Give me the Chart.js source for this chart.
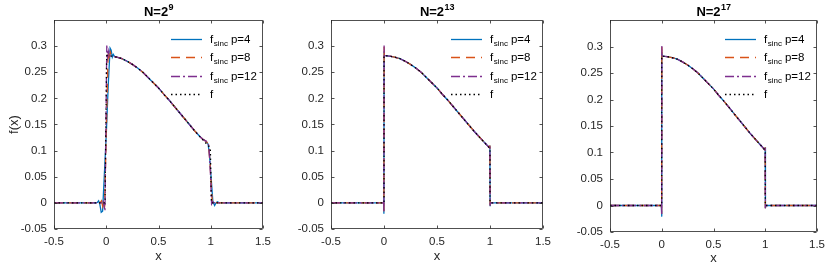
<!DOCTYPE html>
<html>
<head>
<meta charset="utf-8">
<script src="https://cdn.jsdelivr.net/npm/chart.js@4.4.0/dist/chart.umd.min.js"></script>
<style>
    body { margin: 0; background: #fff; }
    .panel { position: absolute; top: 0; }
</style>
</head>
<body>
<canvas id="c1" class="panel" width="277" height="267" style="left:0px"></canvas>
<canvas id="c2" class="panel" width="277" height="267" style="left:280px"></canvas>
<canvas id="c3" class="panel" width="276" height="267" style="left:555px"></canvas>
<script>
// Eixos e rótulos
const xTicks = [-0.5, 0, 0.5, 1, 1.5];
const yTicks = [-0.05, 0, 0.05, 0.1, 0.15, 0.2, 0.25, 0.3];
const exponents = ['9', '13', '17'];
const seriesNames = ['p=4', 'p=8', 'p=12', 'f'];

// parte suave de f (comum a todas as curvas)
const bodyX = [0.1, 0.15, 0.2, 0.25, 0.3, 0.35, 0.4, 0.45, 0.5, 0.55, 0.6, 0.65, 0.7, 0.75, 0.8, 0.85, 0.9];
const bodyY = [0.279, 0.276, 0.271, 0.265, 0.258, 0.250, 0.240, 0.230, 0.220, 0.208, 0.197, 0.185, 0.173, 0.161, 0.149, 0.137, 0.126];

// N=2^9 : comportamento perto dos saltos em x=0 e x=1
const n9p4Left = [[-0.1, 0], [-0.085, 0.001], [-0.073, 0.004], [-0.062, -0.002], [-0.048, -0.018], [-0.035, -0.016], [0.0, 0.13], [0.02, 0.23], [0.037, 0.296], [0.047, 0.292], [0.058, 0.279], [0.068, 0.284], [0.08, 0.280]];
const n9p4Right = [[0.93, 0.121], [0.955, 0.118], [0.975, 0.112], [0.987, 0.094], [1.02, 0.003], [1.037, -0.005], [1.05, 0.0], [1.064, 0.002], [1.08, 0]];
const n9p8Left = [[-0.1, 0], [-0.06, 0], [-0.045, 0.004], [-0.035, -0.006], [-0.026, 0.003], [-0.016, -0.009], [0.018, 0.29], [0.028, 0.279], [0.04, 0.288], [0.052, 0.279], [0.08, 0.280]];
const n9p8Right = [[0.93, 0.121], [0.96, 0.117], [0.978, 0.111], [0.992, 0.08], [1.014, 0.001], [1.028, -0.003], [1.042, 0.002], [1.06, 0]];
const n9p12Left = [[-0.1, 0], [-0.04, 0], [-0.03, 0.005], [-0.021, -0.006], [-0.012, -0.016], [0.005, 0.301], [0.014, 0.279], [0.024, 0.291], [0.034, 0.281], [0.08, 0.280]];
const n9p12Right = [[0.93, 0.121], [0.965, 0.117], [0.982, 0.11], [0.996, 0.06], [1.008, -0.002], [1.02, 0.002], [1.035, 0]];
const n9fLeft = [[-0.012, 0], [0.004, 0.282], [0.05, 0.281]];
const n9fRight = [[0.95, 0.115], [0.996, 0.105], [1.006, 0]];

// N=2^13 e N=2^17 : saltos abruptos com pequenos picos
const sharpP4Left = [[-0.003, 0], [-0.001, -0.021], [0.001, 0.29], [0.003, 0.282], [0.05, 0.281]];
const sharpP8Left = [[-0.003, 0], [-0.001, -0.016], [0.001, 0.299], [0.003, 0.282], [0.05, 0.281]];
const sharpP12Left = [[-0.003, 0], [-0.001, -0.018], [0.001, 0.301], [0.003, 0.282], [0.05, 0.281]];
const sharpRight = [[0.95, 0.115], [0.997, 0.105], [0.999, 0.11], [1.001, -0.005], [1.003, 0]];
const sharpFLeft = [[0, 0], [0, 0.282], [0.05, 0.281]];
const sharpFRight = [[0.95, 0.115], [1, 0.104], [1, 0]];

const lineStyles = [
    { color: '#0072BD', dash: [] },
    { color: '#D95319', dash: [9, 6] },
    { color: '#7E2F8E', dash: [9, 3, 2, 3] },
    { color: '#000000', dash: [1.5, 3] }
];

const FONT = "'Liberation Sans', Arial, Helvetica, sans-serif";
Chart.defaults.font.family = FONT;

function curve(left, right) {
    const pts = [[-0.5, 0], ...left];
    bodyX.forEach((x, i) => pts.push([x, bodyY[i]]));
    pts.push(...right, [1.5, 0]);
    return pts.map(p => ({ x: p[0], y: p[1] }));
}

const fmt = v => String(parseFloat(Number(v).toFixed(2)));

/**
 * Caixa, ticks internos, título e legenda no estilo MATLAB.
 */
const matlabAxes = {
    id: 'matlabAxes',
    afterDatasetsDraw(chart, args, opts) {
        const { ctx, chartArea: a, scales } = chart;
        ctx.save();
        ctx.strokeStyle = '#262626';
        ctx.lineWidth = 0.8;
        ctx.setLineDash([]);
        const L = Math.round(a.left) + 0.5, R = Math.round(a.right) - 0.5;
        const T = Math.round(a.top) + 0.5, B = Math.round(a.bottom) - 0.5;
        ctx.strokeRect(L, T, R - L, B - T);
        ctx.beginPath();
        xTicks.forEach(v => {
            const px = Math.round(scales.x.getPixelForValue(v)) + 0.5;
            ctx.moveTo(px, B); ctx.lineTo(px, B - 3);
            ctx.moveTo(px, T); ctx.lineTo(px, T + 3);
        });
        yTicks.forEach(v => {
            const py = Math.round(scales.y.getPixelForValue(v)) + 0.5;
            ctx.moveTo(L, py); ctx.lineTo(L + 3, py);
            ctx.moveTo(R, py); ctx.lineTo(R - 3, py);
        });
        ctx.stroke();

        // Título N=2^k
        ctx.fillStyle = '#000';
        ctx.textBaseline = 'alphabetic';
        ctx.font = 'bold 13px ' + FONT;
        const w1 = ctx.measureText('N=2').width;
        ctx.font = 'bold 9px ' + FONT;
        const w2 = ctx.measureText(opts.exp).width;
        let tx = (a.left + a.right) / 2 - (w1 + w2) / 2;
        ctx.font = 'bold 13px ' + FONT;
        ctx.fillText('N=2', tx, 16);
        ctx.font = 'bold 9px ' + FONT;
        ctx.fillText(opts.exp, tx + w1 + 0.5, 9.5);

        // Legenda
        const rowY = [19, 37, 55.5, 74];
        chart.data.datasets.forEach((ds, i) => {
            const y = Math.round(a.top + rowY[i]) + 0.5;
            ctx.strokeStyle = ds.borderColor;
            ctx.lineWidth = ds.borderWidth;
            ctx.setLineDash(ds.borderDash || []);
            ctx.beginPath();
            ctx.moveTo(a.right - 92, y);
            ctx.lineTo(a.right - 61, y);
            ctx.stroke();
            ctx.setLineDash([]);
            ctx.fillStyle = '#000';
            ctx.textBaseline = 'middle';
            let x = a.right - 53;
            ctx.font = '11.5px ' + FONT;
            ctx.fillText('f', x, y);
            x += ctx.measureText('f').width + 0.5;
            if (i < 3) {
                ctx.font = '8px ' + FONT;
                ctx.fillText('sinc', x, y + 4);
                x += ctx.measureText('sinc').width + 3;
                ctx.font = '11.5px ' + FONT;
                ctx.fillText(ds.label, x, y);
            }
        });
        ctx.restore();
    }
};

function buildPanel(canvasId, idx, series, geo) {
    const datasets = series.map((pts, i) => ({
        label: seriesNames[i],
        data: pts,
        borderColor: lineStyles[i].color,
        borderDash: lineStyles[i].dash,
        borderWidth: 1.3,
        pointRadius: 0,
        tension: 0,
        fill: false,
        order: 4 - i
    }));

    return new Chart(document.getElementById(canvasId), {
        type: 'line',
        data: { datasets: datasets },
        plugins: [matlabAxes],
        options: {
            responsive: false,
            animation: false,
            layout: { padding: { top: geo.top, right: geo.right, left: 0, bottom: 0 } },
            plugins: {
                legend: { display: false },
                tooltip: { enabled: false },
                matlabAxes: { exp: exponents[idx] }
            },
            scales: {
                x: {
                    type: 'linear',
                    min: -0.5,
                    max: 1.5,
                    afterBuildTicks: s => { s.ticks = xTicks.map(v => ({ value: v })); },
                    afterFit: s => { s.height = geo.bottom; },
                    grid: { display: false, drawTicks: false },
                    border: { display: false },
                    ticks: { font: { size: 11.5 }, color: '#262626', padding: 6, maxRotation: 0, callback: v => fmt(v) },
                    title: { display: true, text: 'x', font: { size: 13 }, color: '#262626', padding: { top: 0, bottom: geo.xTitlePad } }
                },
                y: {
                    min: -0.05,
                    max: 0.35,
                    afterBuildTicks: s => { s.ticks = yTicks.map(v => ({ value: v })); },
                    afterFit: s => { s.width = geo.left; },
                    grid: { display: false, drawTicks: false },
                    border: { display: false },
                    ticks: { font: { size: 11.5 }, color: '#262626', padding: 7, callback: v => fmt(v) },
                    title: { display: idx === 0, text: 'f(x)', font: { size: 13 }, color: '#262626', padding: { top: 7, bottom: 0 } }
                }
            }
        }
    });
}

buildPanel('c1', 0, [
    curve(n9p4Left, n9p4Right),
    curve(n9p8Left, n9p8Right),
    curve(n9p12Left, n9p12Right),
    curve(n9fLeft, n9fRight)
], { left: 54, right: 13, top: 20, bottom: 38, xTitlePad: 2.5 });

buildPanel('c2', 1, [
    curve(sharpP4Left, sharpRight),
    curve(sharpP8Left, sharpRight),
    curve(sharpP12Left, sharpRight),
    curve(sharpFLeft, sharpFRight)
], { left: 51, right: 14, top: 20, bottom: 38, xTitlePad: 2.5 });

buildPanel('c3', 2, [
    curve(sharpP4Left, sharpRight),
    curve(sharpP8Left, sharpRight),
    curve(sharpP12Left, sharpRight),
    curve(sharpFLeft, sharpFRight)
], { left: 55, right: 10, top: 20, bottom: 35, xTitlePad: 1 });
</script>
</body>
</html>
